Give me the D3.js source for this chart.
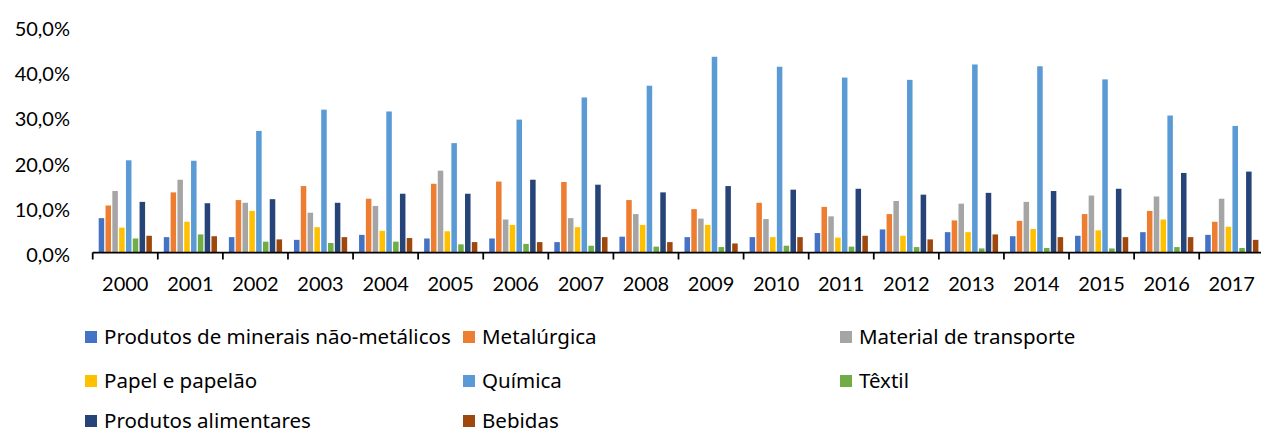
<!DOCTYPE html>
<html>
<head>
<meta charset="utf-8">
<script src="https://cdn.jsdelivr.net/npm/d3@7"></script>
<style>
  html, body { margin: 0; padding: 0; background: #fff; }
  svg { display: block; font-family: Lato, "Open Sans", sans-serif; }
</style>
</head>
<body>
<svg id="chart" width="1261" height="434"></svg>
<script>
// Categories (years)
const years = ["2000","2001","2002","2003","2004","2005","2006","2007","2008",
               "2009","2010","2011","2012","2013","2014","2015","2016","2017"];

// Series names and values (% share per year)
const seriesNames = ["Produtos de minerais não-metálicos", "Metalúrgica", "Material de transporte",
                     "Papel e papelão", "Química", "Têxtil", "Produtos alimentares", "Bebidas"];

const minerais     = [7.6, 3.4, 3.4, 2.8, 3.9, 3.1, 3.1, 2.3, 3.5, 3.4, 3.4, 4.3, 5.1, 4.5, 3.6, 3.7, 4.5, 3.9];
const metalurgica  = [10.4, 13.3, 11.6, 14.7, 11.9, 15.2, 15.7, 15.6, 11.6, 9.6, 11.0, 10.1, 8.5, 7.1, 7.0, 8.5, 9.2, 6.8];
const transporte   = [13.6, 16.1, 11.0, 8.8, 10.3, 18.1, 7.3, 7.6, 8.5, 7.5, 7.4, 8.0, 11.4, 10.8, 11.2, 12.6, 12.4, 11.9];
const papel        = [5.5, 6.8, 9.2, 5.6, 4.8, 4.7, 6.1, 5.6, 6.1, 6.1, 3.4, 3.3, 3.7, 4.5, 5.2, 4.9, 7.3, 5.7];
const quimica      = [20.4, 20.3, 26.9, 31.6, 31.2, 24.2, 29.4, 34.3, 36.9, 43.3, 41.1, 38.7, 38.2, 41.6, 41.2, 38.3, 30.3, 28.0];
const textil       = [3.1, 4.0, 2.4, 2.1, 2.4, 1.8, 1.9, 1.5, 1.3, 1.2, 1.5, 1.3, 1.2, 0.9, 1.0, 0.9, 1.2, 1.0];
const alimentares  = [11.2, 10.9, 11.8, 11.0, 13.0, 13.0, 16.1, 15.0, 13.3, 14.7, 13.9, 14.1, 12.8, 13.2, 13.6, 14.1, 17.6, 17.9];
const bebidas      = [3.7, 3.6, 2.9, 3.4, 3.2, 2.3, 2.3, 3.4, 2.3, 2.0, 3.4, 3.7, 2.9, 4.0, 3.4, 3.4, 3.4, 2.8];

const yTicks = [0, 10, 20, 30, 40, 50];

const seriesValues = [minerais, metalurgica, transporte, papel, quimica, textil, alimentares, bebidas];
const colors = ["#4472C4", "#ED7D31", "#A5A5A5", "#FFC000", "#5B9BD5", "#70AD47", "#264478", "#9E480E"];

const svg = d3.select("#chart");

// Scales
const x0 = d3.scaleBand().domain(years).range([92.7, 1264.3]).padding(0);
const x1 = d3.scaleBand().domain(d3.range(seriesNames.length))
  .range([6.0, 59.2]).paddingInner(0.19).paddingOuter(0);
const y = d3.scaleLinear().domain([0, 50]).range([252.5, 26.5]);

const fmt = d => d.toFixed(1).replace(".", ",") + "%";

// Y axis labels (no axis line)
const yAxis = svg.append("g")
  .attr("transform", "translate(70,0)")
  .call(d3.axisLeft(y).tickValues(yTicks).tickFormat(fmt).tickSize(0).tickPadding(0));
yAxis.select(".domain").remove();
yAxis.selectAll("text")
  .attr("font-family", "Lato, sans-serif")
  .attr("font-size", 20)
  .attr("fill", "#000")
  .attr("dy", "0.45em");

// Bars
const groups = svg.append("g").selectAll("g")
  .data(years)
  .join("g")
  .attr("transform", d => `translate(${x0(d)},0)`);

groups.selectAll("rect")
  .data((d, i) => seriesValues.map((vals, s) => ({ s, v: vals[i] })))
  .join("rect")
  .attr("x", d => x1(d.s))
  .attr("width", x1.bandwidth())
  .attr("y", d => y(d.v))
  .attr("height", d => y(0) - y(d.v))
  .attr("fill", d => colors[d.s]);

// X axis with tick marks between categories
const xAxisG = svg.append("g").attr("transform", `translate(0,${y(0)})`);
xAxisG.append("line")
  .attr("x1", x0.range()[0]).attr("x2", x0.range()[1])
  .attr("stroke", "#000").attr("stroke-width", 1.75);
xAxisG.selectAll("line.tick")
  .data(years)
  .join("line")
  .attr("class", "tick")
  .attr("x1", d => x0(d)).attr("x2", d => x0(d))
  .attr("y1", 0).attr("y2", 7)
  .attr("stroke", "#000").attr("stroke-width", 1.75);
xAxisG.selectAll("text")
  .data(years)
  .join("text")
  .attr("x", d => x0(d) + x0.bandwidth() / 2)
  .attr("y", 31)
  .attr("dy", "0.35em")
  .attr("text-anchor", "middle")
  .attr("font-size", 20)
  .attr("fill", "#000")
  .text(d => d);

// Legend: three columns, three rows
const legendCols = [85, 463, 840];
const legendRows = [337, 381, 421];
const legend = svg.append("g").selectAll("g")
  .data(seriesNames)
  .join("g")
  .attr("transform", (d, i) => `translate(${legendCols[i % 3]},${legendRows[Math.floor(i / 3)]})`);
legend.append("rect")
  .attr("x", 0).attr("y", -6)
  .attr("width", 12).attr("height", 12)
  .attr("fill", (d, i) => colors[i]);
legend.append("text")
  .attr("x", 19).attr("y", 0)
  .attr("dy", "0.35em")
  .attr("font-family", "'Noto Sans', sans-serif")
  .attr("font-size", 20.5)
  .attr("fill", "#000")
  .text(d => d);
</script>
</body>
</html>
